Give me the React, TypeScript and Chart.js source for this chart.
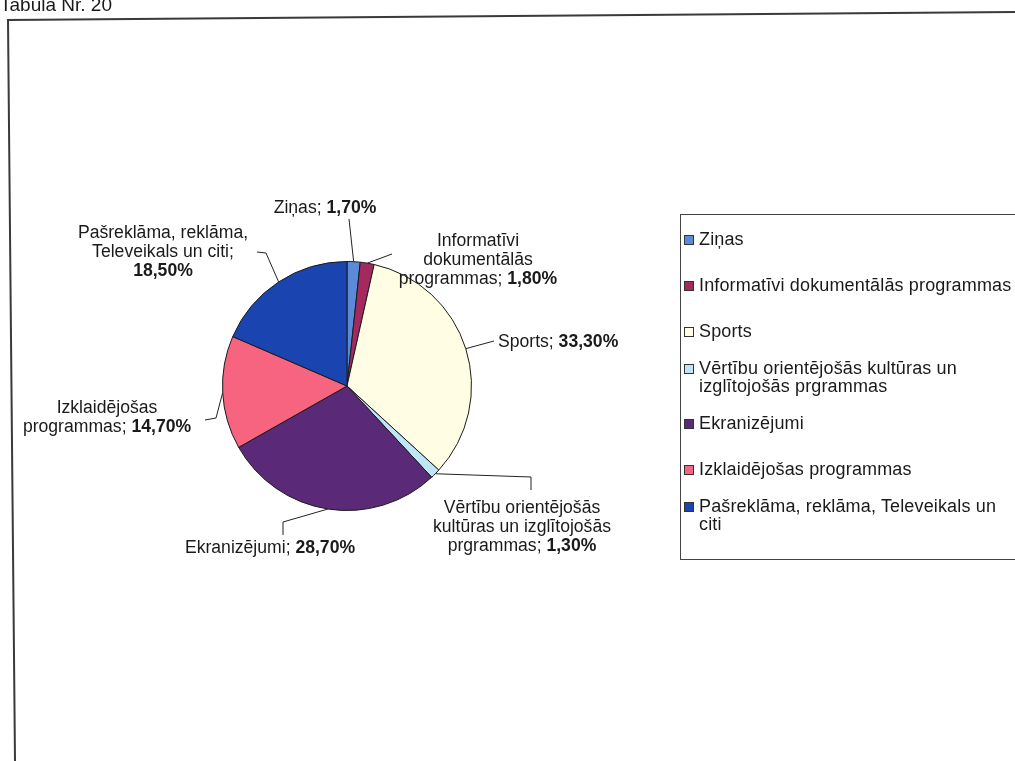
import React, { useEffect, useRef } from "react";
import { Chart, registerables } from "chart.js";

Chart.register(...registerables);

// ---------- data ----------
const TITLE = "Tabula Nr. 20";
const CATEGORIES = [
  "Ziņas",
  "Informatīvi dokumentālās programmas",
  "Sports",
  "Vērtību orientējošās kultūras un izglītojošās prgrammas",
  "Ekranizējumi",
  "Izklaidējošas programmas",
  "Pašreklāma, reklāma, Televeikals un citi",
];
const SHARES = [1.7, 1.8, 33.3, 1.3, 28.7, 14.7, 18.5];
const COLORS = ["#5a8ad8", "#a3295f", "#fffde4", "#bfe6f4", "#5a2a78", "#f7647f", "#1a45b0"];

// wrapped name parts of data labels (value is appended in bold to last line)
const LABEL_LINES = [
  ["Ziņas;"],
  ["Informatīvi", "dokumentālās", "programmas;"],
  ["Sports;"],
  ["Vērtību orientējošās", "kultūras un izglītojošās", "prgrammas;"],
  ["Ekranizējumi;"],
  ["Izklaidējošas", "programmas;"],
  ["Pašreklāma, reklāma,", "Televeikals un citi;", ""],
];
// legend wrapped lines
const LEGEND_LINES = [
  ["Ziņas"],
  ["Informatīvi dokumentālās programmas"],
  ["Sports"],
  ["Vērtību orientējošās kultūras un", "izglītojošās prgrammas"],
  ["Ekranizējumi"],
  ["Izklaidējošas programmas"],
  ["Pašreklāma, reklāma, Televeikals un", "citi"],
];

// ---------- layout (offsets from pie centre, px) ----------
const LABEL_LAYOUT = [
  { text: [-22, -178], align: "center", leader: [[2, -167]] },
  { text: [131, -145], align: "center", leader: [[45, -132]] },
  { text: [151, -44], align: "left", leader: [[147, -45]] },
  { text: [175, 122], align: "center", leader: [[184, 91], [184, 104]] },
  { text: [-77, 162], align: "center", leader: [[-64, 136], [-64, 149]] },
  { text: [-240, 22], align: "center", leader: [[-131, 32], [-142, 34]] },
  { text: [-184, -153], align: "center", leader: [[-81, -133], [-90, -134]] },
];
const FONT = "'Liberation Sans', Arial, sans-serif";
const LABEL_SIZE = 17.6;
const LINE_H = 19;

const fmt = (v: number) => v.toFixed(2).replace(".", ",") + "%";

const framePlugin = {
  id: "frame",
  beforeDraw(chart: any) {
    const ctx = chart.ctx;
    ctx.save();
    ctx.strokeStyle = "#3a3a3a";
    ctx.lineWidth = 2;
    ctx.beginPath();
    ctx.moveTo(1015, 12);
    ctx.lineTo(8, 20);
    ctx.lineTo(15, 761);
    ctx.stroke();
    ctx.restore();
  },
};

const labelPlugin = {
  id: "pieLabels",
  afterDatasetsDraw(chart: any) {
    const ctx = chart.ctx;
    const meta = chart.getDatasetMeta(0);
    const values = chart.data.datasets[0].data as number[];
    ctx.save();
    meta.data.forEach((arc: any, i: number) => {
      const p = arc.getProps(["x", "y", "startAngle", "endAngle", "outerRadius"], true);
      const mid = (p.startAngle + p.endAngle) / 2;
      const ex = p.x + Math.cos(mid) * p.outerRadius;
      const ey = p.y + Math.sin(mid) * p.outerRadius;
      const lay = LABEL_LAYOUT[i];
      // leader line
      ctx.strokeStyle = "#222";
      ctx.lineWidth = 1;
      ctx.beginPath();
      ctx.moveTo(ex, ey);
      lay.leader.forEach((pt) => ctx.lineTo(p.x + pt[0], p.y + pt[1]));
      ctx.stroke();
      // text
      const lines = LABEL_LINES[i];
      const tx = p.x + lay.text[0];
      ctx.fillStyle = "#1a1a1a";
      ctx.textBaseline = "middle";
      ctx.textAlign = "left";
      lines.forEach((ln, li) => {
        const y = p.y + lay.text[1] + li * LINE_H;
        const isLast = li === lines.length - 1;
        const normal = isLast && ln ? ln + " " : ln;
        ctx.font = `${LABEL_SIZE}px ${FONT}`;
        const wN = ctx.measureText(normal).width;
        let wB = 0;
        const bold = isLast ? fmt(values[i]) : "";
        if (bold) {
          ctx.font = `bold ${LABEL_SIZE}px ${FONT}`;
          wB = ctx.measureText(bold).width;
        }
        const total = wN + wB;
        const x0 = lay.align === "center" ? tx - total / 2 : tx;
        ctx.font = `${LABEL_SIZE}px ${FONT}`;
        ctx.fillText(normal, x0, y);
        if (bold) {
          ctx.font = `bold ${LABEL_SIZE}px ${FONT}`;
          ctx.fillText(bold, x0 + wN, y);
        }
      });
    });
    ctx.restore();
  },
};

export default function App() {
  const ref = useRef<HTMLCanvasElement | null>(null);
  useEffect(() => {
    if (!ref.current) return;
    const chart = new Chart(ref.current, {
      type: "pie",
      data: {
        labels: CATEGORIES,
        datasets: [
          {
            data: SHARES,
            backgroundColor: COLORS,
            borderColor: "#1a1a1a",
            borderWidth: 1,
          },
        ],
      },
      options: {
        responsive: false,
        animation: false,
        devicePixelRatio: 1,
        layout: { padding: { left: 222, right: 543, top: 261, bottom: 250 } },
        plugins: { legend: { display: false }, tooltip: { enabled: false } },
      },
      plugins: [framePlugin, labelPlugin],
    } as any);
    return () => chart.destroy();
  }, []);

  return (
    <div
      style={{
        position: "absolute",
        left: 0,
        top: 0,
        width: 1015,
        height: 761,
        overflow: "hidden",
        background: "#fff",
        fontFamily: FONT,
        color: "#1a1a1a",
      }}
    >
      <canvas ref={ref} width={1015} height={761} style={{ position: "absolute", left: 0, top: 0 }} />
      <div
        style={{
          position: "absolute",
          left: 0,
          top: -5,
          fontSize: 19,
          lineHeight: "19px",
          whiteSpace: "nowrap",
        }}
      >
        {TITLE}
      </div>
      <div
        style={{
          position: "absolute",
          left: 680,
          top: 214,
          width: 360,
          height: 346,
          border: "1px solid #444",
          boxSizing: "border-box",
          paddingTop: 1,
        }}
      >
        {CATEGORIES.map((c, i) => (
          <div
            key={c}
            style={{ height: 46, display: "flex", alignItems: "center", paddingLeft: 3 }}
          >
            <div style={{ display: "flex", alignItems: "flex-start" }}>
              <span
                style={{
                  width: 8,
                  height: 8,
                  background: COLORS[i],
                  border: "1px solid #333",
                  marginTop: 5,
                  marginRight: 5,
                  flex: "none",
                }}
              />
              <div style={{ fontSize: 18, letterSpacing: 0.15, lineHeight: "18px", whiteSpace: "nowrap" }}>
                {LEGEND_LINES[i].map((l, k) => (
                  <div key={k}>{l}</div>
                ))}
              </div>
            </div>
          </div>
        ))}
      </div>
    </div>
  );
}
